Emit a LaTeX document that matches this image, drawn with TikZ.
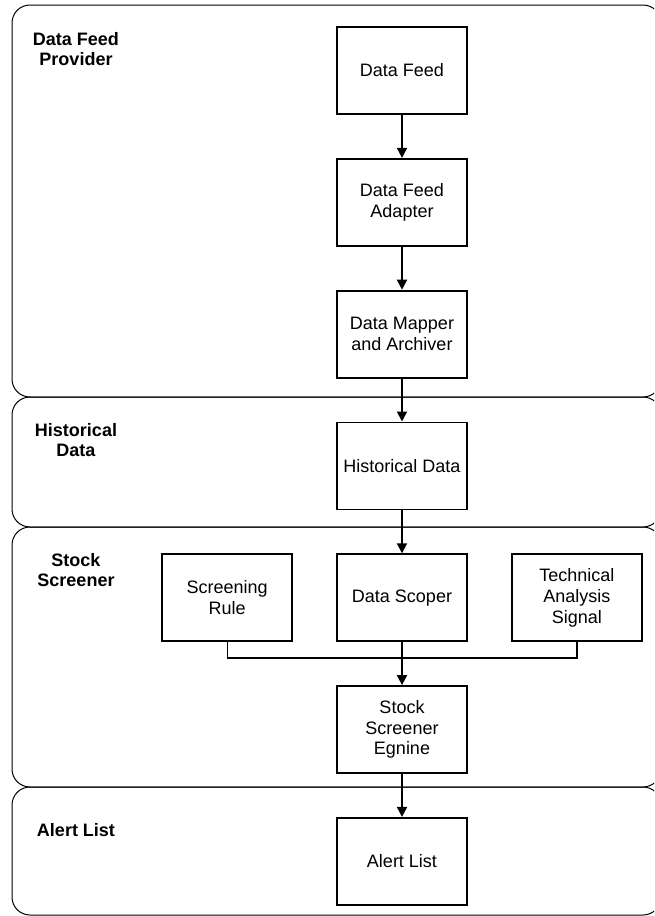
\documentclass[tikz,border=0pt]{standalone}
\usepackage{fontspec}
\setmainfont{Liberation Sans}
\usetikzlibrary{arrows.meta,positioning}

\begin{document}
\begin{tikzpicture}[
    x=0.5pt, y=-0.5pt,
    font=\fontsize{9}{10.35}\selectfont, node distance=21.5pt,
    blk/.style={draw, line width=0.9pt, minimum width=65pt, minimum height=43.5pt, align=center, inner sep=2pt},
    lane/.style={draw, line width=0.5pt, rounded corners=9pt},
    lanelbl/.style={font=\fontsize{9}{10.35}\selectfont\bfseries, align=center},
    arr/.style={-{Triangle[length=5pt,width=5pt]}, line width=0.9pt},
    merge/.style={line width=0.7pt}
  ]
    \useasboundingbox (0,0) rectangle (654,916);
    \clip (0,0) rectangle (654,916);
    % swim lanes
    \draw[lane] (12,5) rectangle (661,397);
    \draw[lane] (12,397) rectangle (661,527);
    \draw[lane] (12,527) rectangle (661,787);
    \draw[lane] (12,787) rectangle (661,915);
    \node[lanelbl] (lblprov) at (76,49) {Data Feed\\Provider};
    \node[lanelbl] (lblhist) at (76,440) {Historical\\Data};
    \node[lanelbl] (lblscr) at (76,570) {Stock\\Screener};
    \node[lanelbl] (lblalert) at (76,830) {Alert List};
    % components
    \node[blk] (feed) at (402,70.5) {Data Feed};
    \node[blk,below=of feed] (adapter) {Data Feed\\Adapter};
    \node[blk,below=of adapter] (mapper) {Data Mapper\\and Archiver};
    \node[blk,below=of mapper] (hist) {Historical Data};
    \node[blk,below=of hist] (scoper) {Data Scoper};
    \node[blk,left=of scoper] (rule) {Screening\\Rule};
    \node[blk,right=of scoper] (signal) {Technical\\Analysis\\Signal};
    \node[blk,below=of scoper] (engine) {Stock\\Screener\\Egnine};
    \node[blk,below=of engine] (alert) {Alert List};
    \draw[arr](feed)--(adapter);
    \draw[arr](adapter)--(mapper);
    \draw[arr](mapper)--(hist);
    \draw[arr](hist)--(scoper);
    \draw[arr](scoper)--(engine);
    \draw[arr](engine)--(alert);
    \draw[merge](rule.south) |- ([yshift=-8pt]scoper.south) -| (signal.south);
\end{tikzpicture}
\end{document}
